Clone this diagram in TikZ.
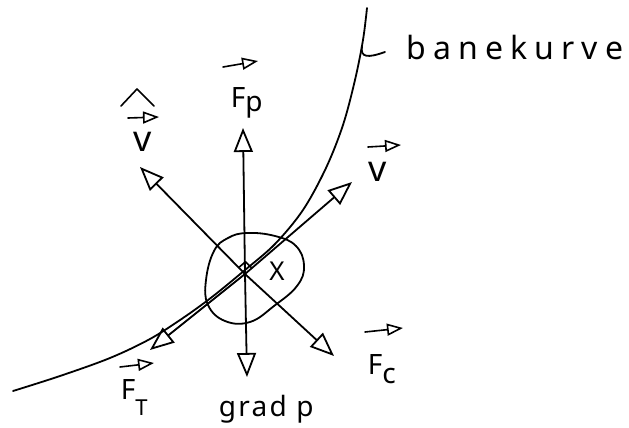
\documentclass[tikz,border=0pt]{standalone}
\usepackage{fontspec}
\setmainfont{Noto Sans}
\usetikzlibrary{arrows.meta,calc}
\begin{document}
\begin{tikzpicture}[x=0.5pt,y=-0.5pt,
  line width=0.9pt, line cap=round, line join=round,
  arr/.style={-{Triangle[open,length=12pt,width=9.5pt,line width=0.9pt]}},
  varr/.style={line width=0.8pt,-{Triangle[open,length=8pt,width=6pt,line width=0.8pt]}},
  lbl/.style={inner sep=0pt, anchor=base west, font=\fontsize{14}{16}\selectfont},
  vlbl/.style={lbl, font=\fontsize{18}{20}\selectfont},
  word/.style={lbl, font=\fontsize{16}{18}\selectfont},
]
\useasboundingbox (0,0) rectangle (629,428);
% path curve (banekurve)
\draw plot[smooth, tension=0.55] coordinates {(367,8) (363,40) (355,80) (343,125) (326,168) (303,210) (275,244) (245,270) (212,297) (183,318) (150,339) (110,358) (60,376) (13,391)};
\coordinate (hk) at (362,46);
\draw (hk) .. controls (360,58) and (368,58) .. (385,52);
% fluid particle blob
\draw plot[smooth cycle, tension=0.7] coordinates {(247,233) (275,236) (296,246) (304,266) (297,286) (274,306) (250,322) (225,321) (208,305) (206,280) (214,251) (228,238)};
% centre and tips
\coordinate (c) at (245,274);
\coordinate (tfp) at (243,128);
\coordinate (tgp) at (247,377);
\coordinate (tvh) at (140,167);
\coordinate (tfc) at (334,356);
\coordinate (tv) at (352,182);
\coordinate (tft) at (150,350);
\draw[arr] (c) -- (tfp);
\draw[arr] (c) -- (tgp);
\draw[arr] (c) -- (tvh);
\draw[arr] (c) -- (tfc);
\draw[arr] (c) -- (tv);
\draw[arr] (c) -- (tft);
% right-angle mark
\coordinate (ra1) at ($(c)!4.5pt!(tvh)$);
\coordinate (ra3) at ($(c)!4.5pt!(tv)$);
\draw[line width=0.8pt] (ra1) -- ($(ra1)+(ra3)-(c)$) -- (ra3);
% labels
\node[lbl] (fp) at (230,107) {F\raisebox{-0.15em}{p}};
\draw[varr] ($(fp.base west)+(-7,-40)$) -- ++(35,-6);
\node[vlbl] (vh) at (133,152) {v};
\draw[varr] ($(vh.base west)+(-5,-34)$) -- ++(31,-1);
\draw[line width=0.8pt] ($(vh.base west)+(-12,-46)$) -- ++(16,-17) -- ++(17,17);
\node[vlbl] (vv) at (368,182) {v};
\draw[varr] ($(vv.base west)+(0,-35)$) -- ++(33,-2);
\node[lbl] (fc) at (367,375) {F\raisebox{-0.3em}{c}};
\draw[varr] ($(fc.base west)+(-2,-43)$) -- ++(38,-4);
\node[lbl] (ft) at (120,400) {F\raisebox{-0.55em}{\fontsize{11}{12}\selectfont T}};
\draw[varr] ($(ft.base west)+(0,-33)$) -- ++(34,-4);
\node[lbl, font=\fontsize{14}{16}\selectfont\addfontfeature{LetterSpace=8}] (gp) at (218,417) {grad p};
\node[word, anchor=center, font=\fontsize{13}{15}\selectfont] (xx) at (277,271) {X};
\node[word, font=\fontsize{16}{18}\selectfont\addfontfeature{LetterSpace=22}] (bk) at (406,60) {banekurve};
\end{tikzpicture}
\end{document}
